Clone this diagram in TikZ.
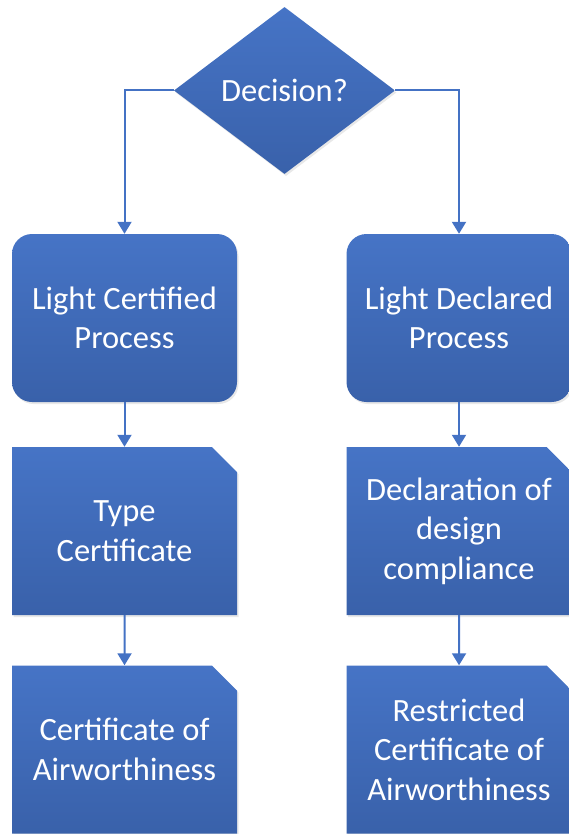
\documentclass[tikz,border=0pt]{standalone}
\usepackage{fontspec}
\setmainfont{Carlito}
\usetikzlibrary{shapes.geometric,shapes.misc,arrows.meta,shadows}
\definecolor{boxtop}{HTML}{4674C6}
\definecolor{boxbot}{HTML}{3961AA}
\definecolor{linkc}{HTML}{4472C4}
\begin{document}
\begin{tikzpicture}[x=1pt,y=-1pt,
  base/.style={draw=none, top color=boxtop, bottom color=boxbot, text=white,
    font=\fontsize{32.5}{39.5}\selectfont, align=center, inner sep=0pt,
    drop shadow={opacity=0.18, shadow xshift=1.5pt, shadow yshift=-2pt}},
  procbox/.style={base, rectangle, rounded corners=20pt, minimum width=225pt, minimum height=168pt},
  docbox/.style={base, chamfered rectangle, chamfered rectangle corners=north east,
    chamfered rectangle xsep=12.5pt, chamfered rectangle ysep=12.5pt,
    minimum width=225pt, minimum height=168pt},
  decbox/.style={base, diamond, minimum width=221pt, minimum height=167pt, aspect=1.32},
  link/.style={draw=linkc, line width=2pt, -{Triangle[width=14pt,length=12pt]}}
]
\useasboundingbox (0,0) rectangle (569,834);
\node[decbox] (dec) at (284.5,90.5) {Decision?};
\node[procbox] (lcp) at (124.5,318) {Light Certified\\Process};
\node[procbox] (ldp) at (459,318) {Light Declared\\Process};
\node[docbox] (tc) at (124.5,531) {Type\\Certificate};
\node[docbox] (ddc) at (459,531) {Declaration of\\design\\compliance};
\node[docbox] (coa) at (124.5,749.5) {Certificate of\\Airworthiness};
\node[docbox] (rcoa) at (459,749.5) {Restricted\\Certificate of\\Airworthiness};
\draw[link] (dec.west) -| (lcp.north);
\draw[link] (dec.east) -| (ldp.north);
\draw[link] (lcp) -- (tc);
\draw[link] (ldp) -- (ddc);
\draw[link] (tc) -- (coa);
\draw[link] (ddc) -- (rcoa);
\end{tikzpicture}
\end{document}
